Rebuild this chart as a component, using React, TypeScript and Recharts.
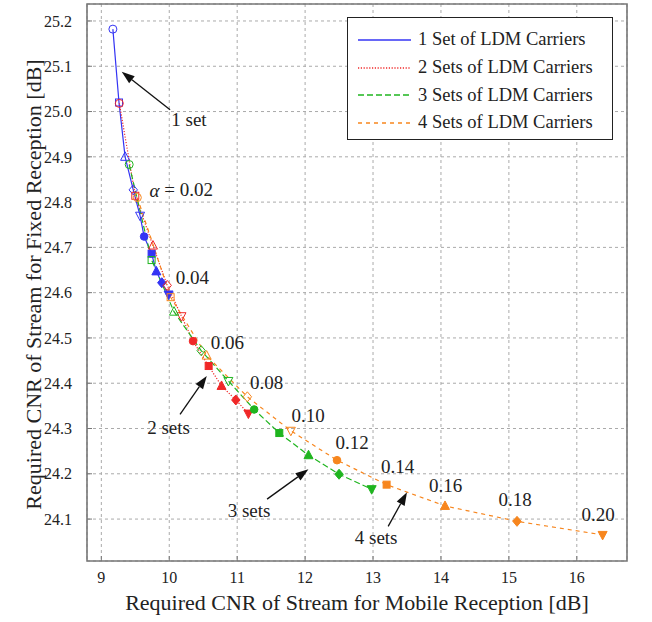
import React from "react";
import {
  CartesianGrid,
  Legend,
  Line,
  LineChart,
  ReferenceArea,
  ReferenceDot,
  ReferenceLine,
  XAxis,
  YAxis,
} from "recharts";

const FONT = "'Times New Roman', Times, 'Liberation Serif', 'DejaVu Serif', serif";

const seriesNames = [
  "1 Set of LDM Carriers",
  "2 Sets of LDM Carriers",
  "3 Sets of LDM Carriers",
  "4 Sets of LDM Carriers",
];

// values (x: mobile CNR, y: fixed CNR)
const set1X = [9.17, 9.26, 9.35, 9.47, 9.57, 9.63, 9.74, 9.81, 9.89, 9.99];
const set1Y = [25.182, 25.02, 24.9, 24.827, 24.77, 24.724, 24.686, 24.647, 24.622, 24.596];
const set2X = [9.265, 9.5, 9.76, 9.97, 10.18, 10.35, 10.58, 10.77, 10.98, 11.165];
const set2Y = [25.018, 24.814, 24.704, 24.616, 24.548, 24.493, 24.438, 24.394, 24.363, 24.333];
const set3X = [9.41, 9.74, 10.07, 10.47, 10.87, 11.25, 11.62, 12.05, 12.5, 12.98];
const set3Y = [24.883, 24.672, 24.558, 24.472, 24.405, 24.342, 24.29, 24.241, 24.199, 24.166];
const set4X = [9.53, 10.02, 10.55, 11.15, 11.79, 12.47, 13.2, 14.06, 15.12, 16.38];
const set4Y = [24.81, 24.59, 24.461, 24.37, 24.295, 24.23, 24.176, 24.129, 24.095, 24.065];

const xTicks = [9, 10, 11, 12, 13, 14, 15, 16];
const yTicks = [24.1, 24.2, 24.3, 24.4, 24.5, 24.6, 24.7, 24.8, 24.9, 25.0, 25.1, 25.2];
const xDomain = [8.789, 16.739];
const yDomain = [24.0074, 25.2375];

const alphaTexts = ["0.02", "0.04", "0.06", "0.08", "0.10", "0.12", "0.14", "0.16", "0.18", "0.20"];
const alphaX = [10.177, 10.339, 10.854, 11.433, 12.044, 12.692, 13.362, 14.069, 15.093, 16.315];
const alphaY = [24.827, 24.633, 24.49, 24.402, 24.329, 24.27, 24.217, 24.175, 24.144, 24.111];

const noteTexts = ["1 set", "2 sets", "3 sets", "4 sets"];
const noteX = [10.29, 9.99, 11.175, 13.046];
const noteY = [24.982, 24.303, 24.12, 24.06];
const arrowTailX = [10.012, 10.159, 11.44, 13.223];
const arrowTailY = [25.004, 24.331, 24.144, 24.084];
const arrowTipX = [9.3, 10.552, 12.049, 13.5];
const arrowTipY = [25.088, 24.416, 24.21, 24.159];

const colors = ["#3434f4", "#f02828", "#1fb51f", "#f7861e"];
const dashes = [undefined, "1.2 1.6", "6 3", "4 4"];

const series = [
  set1X.map((x, i) => ({ x, y: set1Y[i] })),
  set2X.map((x, i) => ({ x, y: set2Y[i] })),
  set3X.map((x, i) => ({ x, y: set3Y[i] })),
  set4X.map((x, i) => ({ x, y: set4Y[i] })),
];

const shapes = ["circle", "square", "up", "diamond", "down"];

function Marker({ cx, cy, index, color }: { cx: number; cy: number; index: number; color: string }) {
  if (cx == null || cy == null) return null;
  const filled = index >= 5;
  const p = { stroke: color, strokeWidth: 1, fill: filled ? color : "none" };
  switch (shapes[index % 5]) {
    case "circle":
      return <circle cx={cx} cy={cy} r={filled ? 3.8 : 4} {...p} />;
    case "square":
      return <rect x={cx - 3.5} y={cy - 3.5} width={7} height={7} {...p} />;
    case "up":
      return <polygon points={`${cx},${cy - 5} ${cx - 4.5},${cy + 3.5} ${cx + 4.5},${cy + 3.5}`} {...p} />;
    case "diamond":
      return <polygon points={`${cx},${cy - 5} ${cx + 4.2},${cy} ${cx},${cy + 5} ${cx - 4.2},${cy}`} {...p} />;
    default:
      return <polygon points={`${cx},${cy + 5} ${cx - 4.5},${cy - 3.5} ${cx + 4.5},${cy - 3.5}`} {...p} />;
  }
}

function Arrow(props: any) {
  const { x1, y1, x2, y2 } = props;
  if ([x1, y1, x2, y2].some((v) => typeof v !== "number")) return null;
  const ang = Math.atan2(y2 - y1, x2 - x1);
  const len = 13;
  const hw = 4.5;
  const bx = x2 - len * Math.cos(ang);
  const by = y2 - len * Math.sin(ang);
  const nx = -Math.sin(ang) * hw;
  const ny = Math.cos(ang) * hw;
  return (
    <g>
      <line x1={x1} y1={y1} x2={bx} y2={by} stroke="#111" strokeWidth={1.3} />
      <polygon points={`${x2},${y2} ${bx + nx},${by + ny} ${bx - nx},${by - ny}`} fill="#111" />
    </g>
  );
}

function LegendBox() {
  return (
    <div
      style={{
        width: 266,
        height: 123,
        boxSizing: "border-box",
        background: "#fff",
        border: "1px solid #222",
        paddingTop: 8,
        fontFamily: FONT,
        fontSize: 18.5,
        color: "#222",
      }}
    >
      {seriesNames.map((name, i) => (
        <div key={name} style={{ display: "flex", alignItems: "center", height: 27.7 }}>
          <svg width={70} height={10} style={{ flex: "none" }}>
            <line x1={10} y1={5} x2={63} y2={5} stroke={colors[i]} strokeWidth={1.3} strokeDasharray={dashes[i]} />
          </svg>
          <span style={{ whiteSpace: "nowrap" }}>{name}</span>
        </div>
      ))}
    </div>
  );
}

const tickStyle = { fontSize: 16, fill: "#222", fontFamily: FONT };

export default function App() {
  return (
    <div style={{ position: "absolute", left: 0, top: 0, width: 652, height: 622, background: "#fff", fontFamily: FONT }}>
      <LineChart width={652} height={622} margin={{ top: 4, right: 25, bottom: 0, left: 0 }} style={{ fontFamily: FONT }}>
        <CartesianGrid stroke="#aaa" strokeDasharray="3 3" />
        <XAxis
          type="number"
          dataKey="x"
          domain={xDomain}
          ticks={xTicks}
          allowDataOverflow
          height={61}
          axisLine={false}
          tickSize={-5}
          tickMargin={16}
          tickLine={{ stroke: "#777" }}
          tick={tickStyle}
          label={{
            value: "Required CNR of Stream for Mobile Reception [dB]",
            position: "insideBottom",
            offset: 12,
            style: { fontSize: 22, fill: "#222", fontFamily: FONT },
          }}
        />
        <XAxis
          xAxisId="top"
          orientation="top"
          type="number"
          domain={xDomain}
          ticks={xTicks}
          allowDataOverflow
          height={0}
          axisLine={false}
          tick={false}
          tickSize={-5}
          tickLine={{ stroke: "#777" }}
        />
        <YAxis
          type="number"
          domain={yDomain}
          ticks={yTicks}
          allowDataOverflow
          width={87}
          axisLine={false}
          tickSize={-5}
          tickMargin={20}
          tickLine={{ stroke: "#777" }}
          tick={tickStyle}
          tickFormatter={(v: number) => v.toFixed(1)}
          label={{
            content: (p: any) => {
              const vb = p.viewBox || {};
              const tx = (vb.x ?? 0) + 41;
              const ty = (vb.y ?? 0) + (vb.height ?? 0) / 2 + 2;
              return (
                <text
                  x={tx}
                  y={ty}
                  transform={`rotate(-90 ${tx} ${ty})`}
                  textAnchor="middle"
                  fontSize={22}
                  fill="#222"
                  style={{ fontFamily: FONT }}
                >
                  Required CNR of Stream for Fixed Reception [dB]
                </text>
              );
            },
          }}
        />
        <YAxis
          yAxisId="right"
          orientation="right"
          type="number"
          domain={yDomain}
          ticks={yTicks}
          allowDataOverflow
          width={0}
          axisLine={false}
          tick={false}
          tickSize={-5}
          tickLine={{ stroke: "#777" }}
        />
        <ReferenceArea
          x1={xDomain[0]}
          x2={xDomain[1]}
          y1={yDomain[0]}
          y2={yDomain[1]}
          fill="none"
          fillOpacity={0}
          stroke="#777"
          strokeWidth={1.6}
          ifOverflow="visible"
        />
        {series.map((data, s) => (
          <Line
            key={seriesNames[s]}
            name={seriesNames[s]}
            data={data}
            dataKey="y"
            type="linear"
            stroke={colors[s]}
            strokeWidth={1.2}
            strokeDasharray={dashes[s]}
            isAnimationActive={false}
            dot={(p: any) => (
              <Marker key={`m${s}-${p.index}`} cx={p.cx} cy={p.cy} index={p.index} color={colors[s]} />
            )}
            activeDot={false}
          />
        ))}
        {noteTexts.map((t, i) => (
          <ReferenceLine
            key={`arrow-${t}`}
            segment={[
              { x: arrowTailX[i], y: arrowTailY[i] },
              { x: arrowTipX[i], y: arrowTipY[i] },
            ]}
            ifOverflow="visible"
            shape={(p: any) => <Arrow {...p} />}
          />
        ))}
        {noteTexts.map((t, i) => (
          <ReferenceDot
            key={`note-${t}`}
            x={noteX[i]}
            y={noteY[i]}
            r={1}
            ifOverflow="visible"
            shape={(p: any) => (
              <text x={p.cx} y={p.cy} textAnchor="middle" dominantBaseline="central" fontSize={19} fill="#222" style={{ fontFamily: FONT }}>
                {t}
              </text>
            )}
          />
        ))}
        {alphaTexts.map((t, i) => (
          <ReferenceDot
            key={`alpha-${t}`}
            x={alphaX[i]}
            y={alphaY[i]}
            r={1}
            ifOverflow="visible"
            shape={(p: any) => (
              <text x={p.cx} y={p.cy} textAnchor="middle" dominantBaseline="central" fontSize={19} fill="#222" style={{ fontFamily: FONT }}>
                {i === 0 ? (
                  <>
                    <tspan fontStyle="italic">α</tspan>
                    {" = " + t}
                  </>
                ) : (
                  t
                )}
              </text>
            )}
          />
        ))}
        <Legend
          layout="horizontal"
          verticalAlign="middle"
          align="center"
          wrapperStyle={{ top: 17, left: 347, width: 266, height: 123 }}
          content={() => <LegendBox />}
        />
      </LineChart>
    </div>
  );
}
